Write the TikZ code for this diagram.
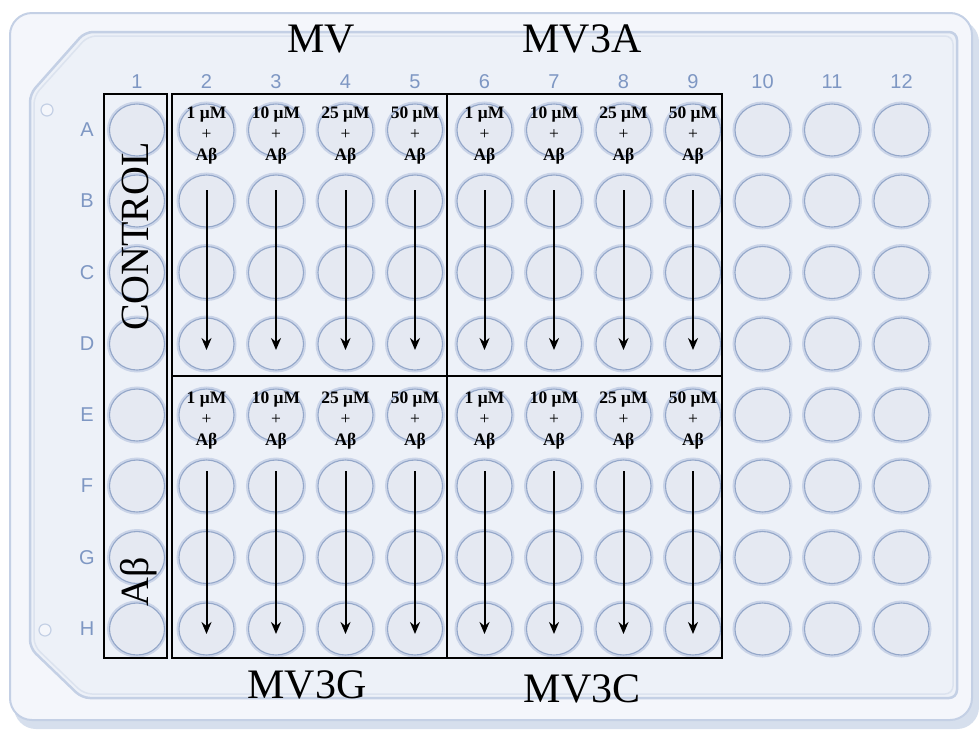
\documentclass[tikz,border=0pt]{standalone}
\usepackage{fontspec}
\setmainfont{Liberation Serif}
\newfontfamily\labelfont{Liberation Sans}
\usetikzlibrary{shapes.geometric,arrows.meta}
\definecolor{outerbg}{HTML}{F4F6FB}
\definecolor{innerbg}{HTML}{EDF1F8}
\definecolor{plateedge}{HTML}{C4D0E5}
\definecolor{bevel}{HTML}{DCE3EF}
\definecolor{wellfill}{HTML}{E5E9F2}
\definecolor{welledge}{HTML}{94A7C9}
\definecolor{wellglow}{HTML}{CAD4E8}
\definecolor{idxcol}{HTML}{7E97C3}
\definecolor{shadowcol}{HTML}{D6DFED}
\tikzset{
  well/.style={ellipse, minimum width=55pt, minimum height=52pt, inner sep=0pt,
    fill=wellfill, draw=welledge, line width=1.1pt,
    preaction={draw=wellglow, line width=5pt}},
  idx/.style={font=\labelfont\fontsize{20}{20}\selectfont, text=idxcol, inner sep=0pt},
  conc/.style={align=center, inner sep=0pt, font=\fontsize{17.5}{21}\selectfont\bfseries},
  big/.style={font=\fontsize{42}{42}\selectfont, inner sep=0pt},
  side/.style={font=\fontsize{40}{40}\selectfont, inner sep=0pt, rotate=90},
  groupbox/.style={draw=black, line width=1.6pt},
  arr/.style={-{Stealth[length=12pt,width=10pt]}, line width=2pt, black}
}
\begin{document}
\begin{tikzpicture}[x=1pt,y=-1pt]
\useasboundingbox (0,0) rectangle (979,729);
\fill[white] (0,0) rectangle (979,729);
% plate
\fill[shadowcol, rounded corners=22pt] (14,20) rectangle (979,729);
\draw[plateedge, line width=2pt, fill=outerbg, rounded corners=22pt] (10,13) rectangle (972,720);
\draw[plateedge, line width=2.5pt, fill=innerbg, rounded corners=8pt]
  (85,32) -- (957,32) -- (957,698) -- (82,698) -- (30,648) -- (30,94) -- cycle;
\draw[bevel, line width=1.5pt, rounded corners=8pt]
  (88,36) -- (953,36) -- (953,694) -- (84,694) -- (34,646) -- (34,96) -- cycle;
\draw[plateedge, line width=1.2pt, fill=outerbg] (47,110) circle (6pt);
\draw[plateedge, line width=1.2pt, fill=outerbg] (45,630) circle (6pt);
% column labels
\foreach \c in {1,...,12} {
  \node[idx] (col-\c) at ({137+(\c-1)*69.5},82) {\c};
}
% rows and wells
\foreach \r/\ry in {A/130,B/201,C/272.5,D/344,E/415,F/486,G/557.5,H/629} {
  \node[idx] (row-\r) at (87,\ry) {\r};
  \foreach \c in {1,...,12} {
    \node[well] (w-\r-\c) at ({137+(\c-1)*69.5},\ry) {};
  }
}
% concentration labels
\foreach \r in {A,E} {
  \foreach \c/\t in {2/1,3/10,4/25,5/50,6/1,7/10,8/25,9/50} {
    \node[conc] (t-\r-\c) at ([yshift=-6pt]w-\r-\c.center) {\t\ μM\\{\mdseries +}\\Aβ};
  }
}
% arrows
\foreach \c in {2,...,9} {
  \draw[arr] ([yshift=11pt]w-B-\c.center) -- ([yshift=-6pt]w-D-\c.center);
  \draw[arr] ([yshift=15pt]w-F-\c.center) -- ([yshift=-5pt]w-H-\c.center);
}
% group boxes
\draw[groupbox] (104,94) rectangle (167,658);
\draw[groupbox] (172,94) rectangle (447,376);
\draw[groupbox] (447,94) rectangle (722,376);
\draw[groupbox] (172,376) rectangle (447,658);
\draw[groupbox] (447,376) rectangle (722,658);
% titles
\node[big, anchor=base] (mv) at (321,52) {MV};
\node[big, anchor=base] (mv3a) at (582,52) {MV3A};
\node[big, anchor=base] (mv3g) at (307,698) {MV3G};
\node[big, anchor=base] (mv3c) at (582,702) {MV3C};
\node[side, anchor=base] (control) at (148,236.5) {CONTROL};
\node[side, anchor=base] (abeta) at (148,582) {Aβ};
\end{tikzpicture}
\end{document}
